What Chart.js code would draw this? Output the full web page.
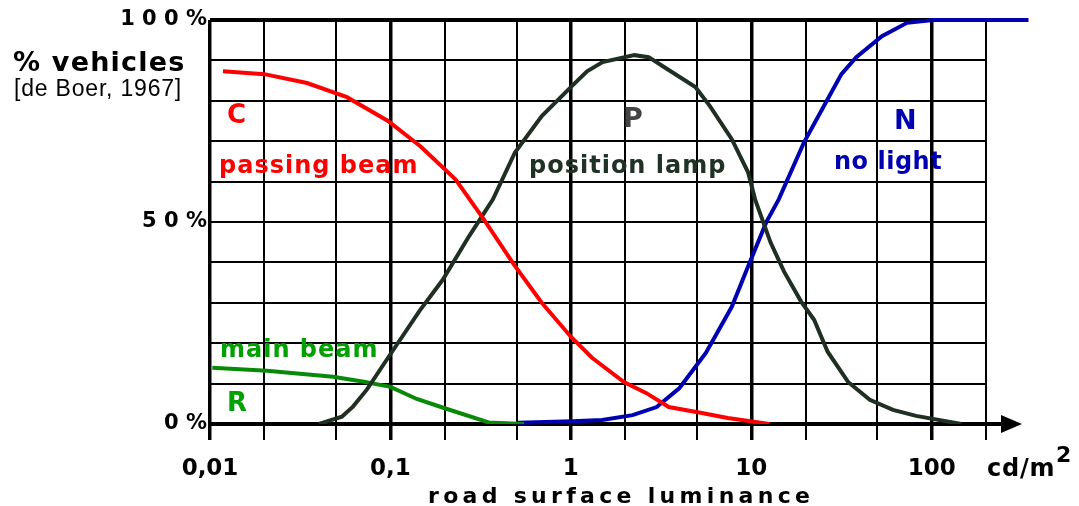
<!DOCTYPE html>
<html>
<head>
<meta charset="utf-8">
<script src="https://cdn.jsdelivr.net/npm/chart.js@4"></script>
<style>
  html, body { margin: 0; padding: 0; background: #fff; }
  #wrap { width: 1079px; height: 506px; }
</style>
</head>
<body>
<div id="wrap"><canvas id="chart" width="1079" height="506"></canvas></div>
<script>
// luminance axis (cd/m2), log scale
const luminanceTicks = [0.01, 0.02, 0.05, 0.1, 0.2, 0.5, 1, 2, 5, 10, 20, 50, 100, 200];
const decadeValues = [0.01, 0.1, 1, 10, 100];
const decadeLabels = ['0,01', '0,1', '1', '10', '100'];

// percentage axis
const percentTicks = [0, 10, 20, 30, 40, 50, 60, 70, 80, 90, 100];
const percentLabelValues = [0, 50, 100];
const percentLabels = ['0 %', '5 0 %', '1 0 0 %'];

// C - passing beam
const passingX = [0.0118, 0.02, 0.0345, 0.0574, 0.097, 0.147, 0.23, 0.33, 0.483, 0.69, 1.0, 1.31, 1.97, 2.61, 3.49, 5.32, 7.41, 12.6];
const passingY = [87.3, 86.6, 84.4, 80.9, 75.0, 68.7, 60.5, 50.6, 39.5, 30.0, 21.6, 16.4, 10.4, 7.7, 4.2, 2.7, 1.5, 0];

// P - position lamp
const positionX = [0.0402, 0.0538, 0.062, 0.074, 0.097, 0.145, 0.195, 0.272, 0.37, 0.49, 0.69, 1.0, 1.23, 1.5, 2.25, 2.7, 3.3, 4.9, 5.9, 7.8, 9.6, 10.5, 12.8, 15.2, 18.9, 22.3, 26.5, 34.4, 45.4, 61, 82, 146];
const positionY = [0, 1.8, 4.3, 8.5, 16.4, 28, 35.7, 46.4, 55.6, 67.2, 76.2, 83.4, 87.3, 89.6, 91.3, 90.8, 88.3, 83.4, 78.7, 70.5, 62.3, 55.6, 44.9, 37.7, 30.3, 25.8, 17.9, 10.4, 6.0, 3.5, 2.0, 0];

// N - no light
const noLightX = [0.51, 1.02, 1.49, 2.2, 2.99, 4.0, 5.6, 7.8, 9.6, 12.1, 14.2, 19.6, 26.5, 31.6, 38.2, 53, 73, 102, 344];
const noLightY = [0.3, 0.7, 1.0, 2.2, 4.2, 8.9, 17.6, 29, 39, 49.9, 55.6, 69.7, 80.4, 86.6, 90.8, 96, 99.3, 100, 100];

// R - main beam
const mainBeamX = [0.0103, 0.0207, 0.048, 0.070, 0.1, 0.14, 0.2, 0.35, 0.55];
const mainBeamY = [13.9, 13.2, 11.7, 10.5, 9.2, 6.2, 3.9, 0.4, 0];

const toPoints = (xs, ys) => xs.map((x, i) => ({ x: x, y: ys[i] }));
const isDecade = v => decadeValues.some(d => Math.abs(d - v) / d < 1e-6);

// texts on the chart
const labelsPlugin = {
  id: 'labelsPlugin',
  afterDraw(chart) {
    const ctx = chart.ctx;
    const area = chart.chartArea;
    const y0 = chart.scales.y.getPixelForValue(0);

    // axis arrow
    ctx.save();
    ctx.strokeStyle = '#000';
    ctx.lineWidth = 4;
    ctx.beginPath();
    ctx.moveTo(area.right, y0);
    ctx.lineTo(1004, y0);
    ctx.stroke();
    ctx.fillStyle = '#000';
    ctx.beginPath();
    ctx.moveTo(1001, y0 - 9);
    ctx.lineTo(1022, y0);
    ctx.lineTo(1001, y0 + 9);
    ctx.closePath();
    ctx.fill();

    const txt = (s, x, y, font, color, spacing) => {
      ctx.font = font;
      ctx.fillStyle = color;
      ctx.letterSpacing = (spacing || 0) + 'px';
      ctx.textAlign = 'left';
      ctx.textBaseline = 'alphabetic';
      ctx.fillText(s, x, y);
    };

    txt('% vehicles', 13, 71, 'bold 27px "DejaVu Sans"', '#000', 1.2);
    txt('[de Boer, 1967]', 14, 96, '23px "Liberation Sans"', '#000', 0.8);

    txt('C', 227, 123, 'bold 26px "DejaVu Sans"', '#ff0000', 0);
    txt('passing beam', 219, 173, 'bold 24px "DejaVu Sans"', '#ff0000', 1);

    txt('P', 623, 127, 'bold 27px "DejaVu Sans"', '#444444', 0);
    txt('position lamp', 529, 173, 'bold 24px "DejaVu Sans"', '#203226', 1);

    txt('N', 894, 129, 'bold 27px "DejaVu Sans"', '#0000b0', 0);
    txt('no light', 834, 169, 'bold 24px "DejaVu Sans"', '#0000b0', 0.5);

    txt('main beam', 220, 357, 'bold 24px "DejaVu Sans"', '#00a000', 1);
    txt('R', 227, 411, 'bold 26px "DejaVu Sans"', '#00a000', 0);

    txt('cd/m', 987, 476, 'bold 24px "DejaVu Sans"', '#000', 0.8);
    txt('2', 1056, 462, 'bold 22px "DejaVu Sans"', '#000', 0);

    txt('road surface luminance', 428, 503, 'bold 22px "DejaVu Sans"', '#000', 4.3);
    ctx.restore();
  }
};

new Chart(document.getElementById('chart'), {
  type: 'line',
  data: {
    datasets: [
      {
        label: 'passing beam',
        data: toPoints(passingX, passingY),
        borderColor: '#ff0000',
        borderWidth: 4,
        pointRadius: 0,
        tension: 0
      },
      {
        label: 'position lamp',
        data: toPoints(positionX, positionY),
        borderColor: '#1f3023',
        borderWidth: 4,
        pointRadius: 0,
        tension: 0
      },
      {
        label: 'main beam',
        data: toPoints(mainBeamX, mainBeamY),
        borderColor: '#088a08',
        borderWidth: 4,
        pointRadius: 0,
        tension: 0
      },
      {
        label: 'no light',
        data: toPoints(noLightX, noLightY),
        borderColor: '#0000b0',
        borderWidth: 4,
        pointRadius: 0,
        tension: 0,
        clip: false
      }
    ]
  },
  options: {
    responsive: false,
    animation: false,
    layout: { padding: { top: 20, right: 93, bottom: 0, left: 0 } },
    plugins: {
      legend: { display: false },
      tooltip: { enabled: false }
    },
    scales: {
      x: {
        type: 'logarithmic',
        min: 0.01,
        max: 200,
        afterBuildTicks: scale => {
          scale.ticks = luminanceTicks.map(v => ({ value: v }));
        },
        afterFit: scale => { scale.height = 82; },
        border: { display: false },
        grid: {
          color: '#000',
          lineWidth: ctx => (ctx.tick && isDecade(ctx.tick.value)) ? 3.5 : 2,
          tickLength: 16,
          drawTicks: true
        },
        ticks: {
          autoSkip: false,
          maxRotation: 0,
          padding: 15,
          color: '#000',
          font: { family: 'DejaVu Sans', size: 23, weight: 'bold' },
          callback: function (value) {
            const i = decadeValues.findIndex(d => Math.abs(d - value) / d < 1e-6);
            return i >= 0 ? decadeLabels[i] : '';
          }
        }
      },
      y: {
        min: 0,
        max: 100,
        afterBuildTicks: scale => {
          scale.ticks = percentTicks.map(v => ({ value: v }));
        },
        afterFit: scale => { scale.width = 210; },
        border: { display: false },
        grid: {
          color: '#000',
          lineWidth: ctx => (ctx.tick && (ctx.tick.value === 0 || ctx.tick.value === 100)) ? 4 : 2,
          drawTicks: false
        },
        ticks: {
          autoSkip: false,
          padding: 3,
          color: '#000',
          font: { family: 'DejaVu Sans', size: 21, weight: 'bold' },
          callback: function (value) {
            const i = percentLabelValues.indexOf(value);
            return i >= 0 ? percentLabels[i] : '';
          }
        }
      }
    }
  },
  plugins: [labelsPlugin]
});
</script>
</body>
</html>
